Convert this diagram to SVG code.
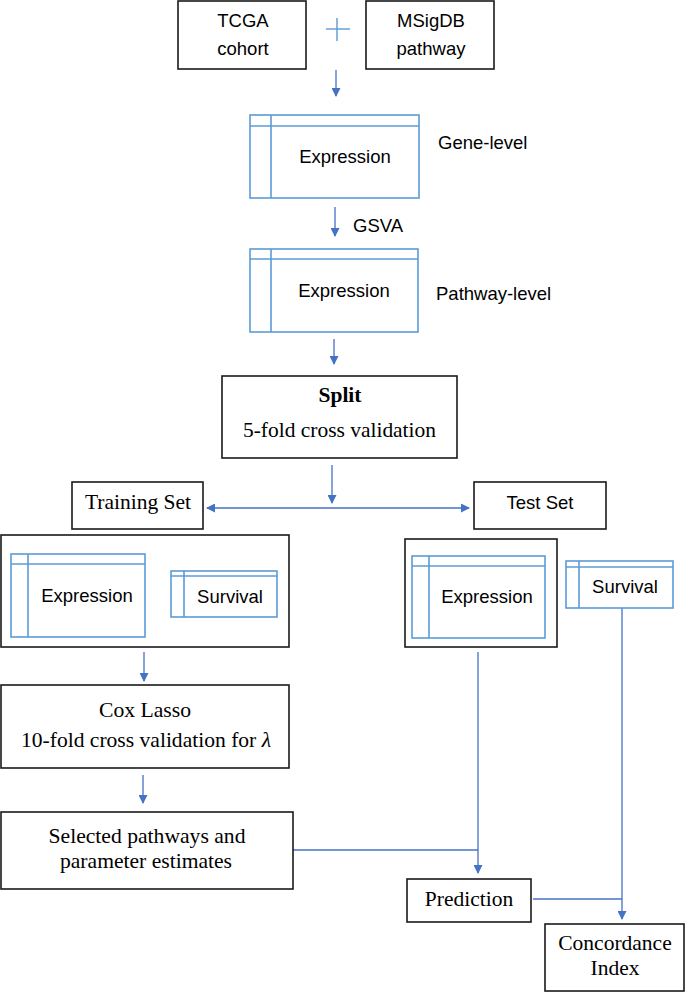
<svg xmlns="http://www.w3.org/2000/svg" width="685" height="992" viewBox="0 0 685 992">
<defs>
<marker id="ah" markerUnits="userSpaceOnUse" markerWidth="9" markerHeight="9" refX="8" refY="4.5" orient="auto-start-reverse">
<path d="M0,0 L9,4.5 L0,9 z" fill="#4472C4"/>
</marker>
<style>
.box{fill:#fff;stroke:#1a1a1a;stroke-width:1.6}
.tbl{fill:none;stroke:#5B9BD5;stroke-width:1.6}
.con{fill:none;stroke:#4472C4;stroke-width:1.3}
.sans{font-family:"Liberation Sans",Arial,sans-serif;font-size:18.5px;fill:#000}
.serif{font-family:"Liberation Serif","Times New Roman",serif;font-size:21.5px;fill:#000}
.mid{text-anchor:middle}
</style>
</defs>
<rect width="685" height="992" fill="#fff"/>

<g id="connectors">
<line class="con" x1="336" y1="70" x2="336" y2="96" marker-end="url(#ah)"/>
<line class="con" x1="335" y1="207" x2="335" y2="236" marker-end="url(#ah)"/>
<line class="con" x1="334" y1="339" x2="334" y2="364" marker-end="url(#ah)"/>
<line class="con" x1="332" y1="465" x2="332" y2="503" marker-end="url(#ah)"/>
<line class="con" x1="207" y1="508" x2="469" y2="508" marker-start="url(#ah)" marker-end="url(#ah)"/>
<line class="con" x1="144" y1="652" x2="144" y2="681" marker-end="url(#ah)"/>
<line class="con" x1="143" y1="775" x2="143" y2="803" marker-end="url(#ah)"/>
<line class="con" x1="293" y1="850" x2="478" y2="850"/>
<line class="con" x1="478" y1="652" x2="478" y2="873" marker-end="url(#ah)"/>
<line class="con" x1="533" y1="899" x2="622" y2="899"/>
<line class="con" x1="622" y1="608" x2="622" y2="919" marker-end="url(#ah)"/>
</g>

<g id="tcga">
<rect class="box" x="178" y="1" width="128" height="68"/>
<text class="sans mid" x="243" y="27">TCGA</text>
<text class="sans mid" x="243" y="55">cohort</text>
</g>

<g id="plus">
<line x1="326" y1="29" x2="350" y2="29" stroke="#5B9BD5" stroke-width="1.4"/>
<line x1="337" y1="18" x2="337" y2="41" stroke="#5B9BD5" stroke-width="1.4"/>
</g>

<g id="msigdb">
<rect class="box" x="366" y="1" width="128" height="68"/>
<text class="sans mid" x="431" y="27">MSigDB</text>
<text class="sans mid" x="431" y="55">pathway</text>
</g>

<g id="gene-expression">
<rect class="tbl" x="250" y="115" width="169" height="83"/>
<line class="tbl" x1="250" y1="126" x2="419" y2="126"/>
<line class="tbl" x1="271" y1="115" x2="271" y2="198"/>
<text class="sans mid" x="345" y="163">Expression</text>
<text class="sans" x="438" y="149">Gene-level</text>
</g>

<g id="gsva-label">
<text class="sans" x="353" y="232">GSVA</text>
</g>

<g id="pathway-expression">
<rect class="tbl" x="250" y="249" width="168" height="83"/>
<line class="tbl" x1="250" y1="259" x2="418" y2="259"/>
<line class="tbl" x1="271" y1="249" x2="271" y2="332"/>
<text class="sans mid" x="344" y="297">Expression</text>
<text class="sans" x="436" y="300">Pathway-level</text>
</g>

<g id="split">
<rect class="box" x="222" y="376" width="235" height="82"/>
<text class="serif mid" x="340" y="402" font-weight="bold">Split</text>
<text class="serif mid" x="339.5" y="437" textLength="193" lengthAdjust="spacingAndGlyphs">5-fold cross validation</text>
</g>

<g id="training-set">
<rect class="box" x="72" y="482" width="131" height="47"/>
<text class="serif mid" x="138" y="509" textLength="106" lengthAdjust="spacingAndGlyphs" font-size="23">Training Set</text>
</g>

<g id="test-set">
<rect class="box" x="474" y="482" width="132" height="47"/>
<text class="sans mid" x="540" y="509">Test Set</text>
</g>

<g id="training-data">
<rect class="box" x="1" y="535" width="288" height="112"/>
<rect class="tbl" x="11" y="554" width="134" height="83"/>
<line class="tbl" x1="11" y1="564" x2="145" y2="564"/>
<line class="tbl" x1="28" y1="554" x2="28" y2="637"/>
<text class="sans mid" x="87" y="602">Expression</text>
<rect class="tbl" x="171" y="571" width="106" height="46"/>
<line class="tbl" x1="171" y1="576" x2="277" y2="576"/>
<line class="tbl" x1="184" y1="571" x2="184" y2="617"/>
<text class="sans mid" x="230" y="603">Survival</text>
</g>

<g id="test-expression">
<rect class="box" x="405" y="539" width="152" height="108" stroke-width="2.2"/>
<rect class="tbl" x="412" y="556" width="133" height="82"/>
<line class="tbl" x1="412" y1="566" x2="545" y2="566"/>
<line class="tbl" x1="429" y1="556" x2="429" y2="638"/>
<text class="sans mid" x="487" y="603">Expression</text>
</g>

<g id="test-survival">
<rect class="tbl" x="566" y="561" width="107" height="47"/>
<line class="tbl" x1="566" y1="567" x2="673" y2="567"/>
<line class="tbl" x1="579" y1="561" x2="579" y2="608"/>
<text class="sans mid" x="625" y="593">Survival</text>
</g>

<g id="cox-lasso">
<rect class="box" x="1" y="685" width="288" height="83"/>
<text class="serif mid" x="145" y="717" textLength="92" lengthAdjust="spacingAndGlyphs">Cox Lasso</text>
<text class="serif mid" x="146" y="747" textLength="250" lengthAdjust="spacingAndGlyphs">10-fold cross validation for <tspan font-style="italic">λ</tspan></text>
</g>

<g id="selected">
<rect class="box" x="1" y="812" width="292" height="77"/>
<text class="serif mid" x="147" y="843" textLength="197" lengthAdjust="spacingAndGlyphs">Selected pathways and</text>
<text class="serif mid" x="146" y="868" textLength="172" lengthAdjust="spacingAndGlyphs">parameter estimates</text>
</g>

<g id="prediction">
<rect class="box" x="407" y="879" width="124" height="43"/>
<text class="serif mid" x="469" y="906">Prediction</text>
</g>

<g id="concordance">
<rect class="box" x="545" y="924" width="139" height="67"/>
<text class="serif mid" x="615" y="950">Concordance</text>
<text class="serif mid" x="615" y="975">Index</text>
</g>
</svg>
